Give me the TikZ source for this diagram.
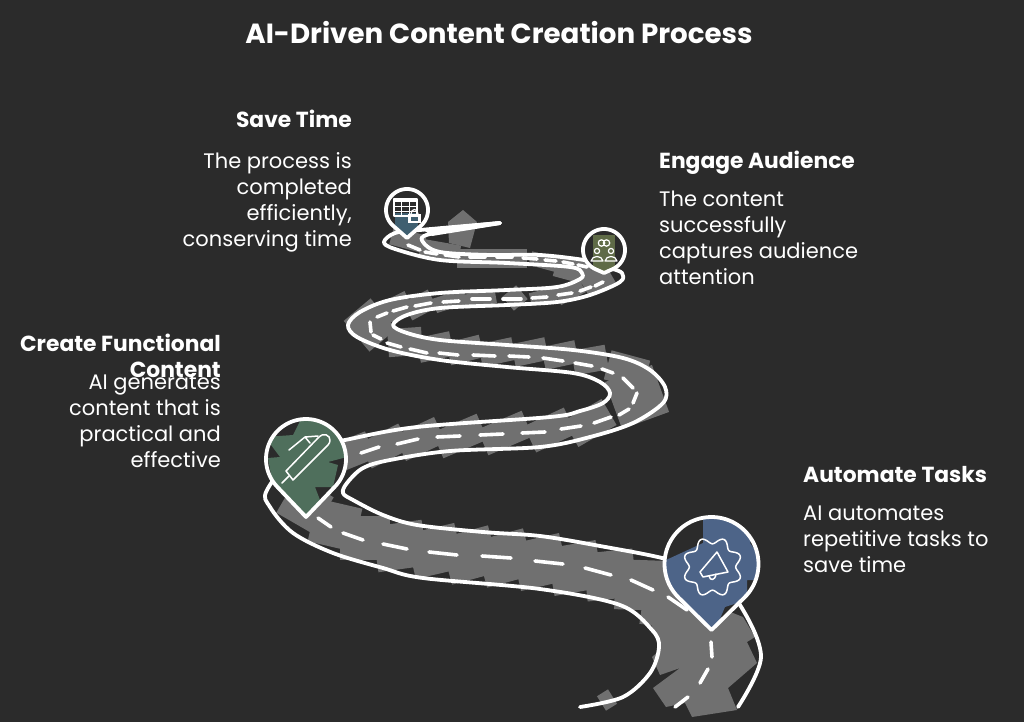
\documentclass[tikz,border=0pt]{standalone}
\usepackage{fontspec}
\setmainfont{Poppins}
\definecolor{bg}{HTML}{2B2B2B}
\definecolor{roadgray}{HTML}{707070}
\definecolor{pinblue}{HTML}{4D6488}
\definecolor{pingreen}{HTML}{4F6F5C}
\definecolor{pinolive}{HTML}{5F6B47}
\definecolor{pinteal}{HTML}{3F5F70}
\tikzset{
  edgeline/.style={draw=white,line width=3.8pt,line cap=round,line join=round},
  dashmark/.style={draw=white,line width=3.6pt,line cap=round},
  iconline/.style={draw=white,line width=1.5pt,line join=round,line cap=round},
  headtext/.style={inner sep=0pt,text=white,font=\fontsize{21.8}{25.5}\selectfont\bfseries},
  bodytext/.style={inner sep=0pt,text=white,font=\fontsize{21}{26}\selectfont},
}
\newcommand{\droppath}[6]{plot[domain=#5:#6,samples=70] ({#1+#3*cos(\x)},{#2+#3*sin(\x)}) -- (#1,#4) -- cycle}
\newcommand{\dropblue}{\droppath{711.5}{564}{47}{630}{134.6}{405.4}}
\newcommand{\dropgreen}{\droppath{306}{459}{40}{517}{136.4}{403.6}}
\newcommand{\dropolive}{\droppath{604}{250}{21}{273}{114.1}{425.9}}
\newcommand{\dropteal}{\droppath{407}{210}{21}{238}{131.4}{408.6}}
\begin{document}
\begin{tikzpicture}[x=1pt,y=-1pt]
\useasboundingbox (0,0) rectangle (1024,722);
\fill[bg] (0,0) rectangle (1024,722);

% road body: overlapping rotated slabs
\foreach \cx/\cy/\ang/\len/\hgt in {
 607/700/32/13/17,
 668/600/-8/50/55, 640/585/-2/50/50, 610/575/6/50/48, 575/568/10/50/48,
 540/562/13/50/48, 505/558/15/50/48, 470/555/15/50/48, 435/551/13/50/46, 400/546/8/50/46,
 365/538/0/50/44, 335/525/-13/46/44, 305/505/-30/42/42,
 350/453/22/44/29, 385/446/27/44/28, 420/439/25/44/28, 460/436/23/48/28, 505/433/23/48/28,
 550/430/25/44/29, 590/423/30/44/30, 637/397/20/50/50,
 627/370/-15/40/30, 590/360/10/34/25, 560/355/12/34/23, 530/352/12/34/23, 497/352/12/34/23,
 465/350/14/34/23, 435/347/12/34/25, 405/342/4/34/28, 370/325/40/35/40,
 395/308/26/32/22, 420/305/28/28/20, 450/301/18/32/15, 480/299/10/32/14, 515/298/40/18/18,
 545/296/14/30/13, 570/292/28/28/15, 597/280/30/30/22, 573/270/-15/36/22, 545/262/-15/30/14,
 492/258/0/70/19, 440/250/-10/40/16, 408/240/-15/34/18}
{\fill[roadgray,shift={(\cx,\cy)},rotate=\ang] ({-\len/2},{-\hgt/2}) rectangle ({\len/2},{\hgt/2});}
\fill[roadgray] (463,210) -- (448,222) -- (449,243) -- (470,248) -- (477,222) -- cycle;
\fill[roadgray] (743,617) -- (755,637) -- (747,642) -- (757,663) -- (728,688) -- (737,710) -- (692,717) -- (685,703) -- (666,707) -- (653,688) -- (680,668) -- (660,675) -- (652,657) -- (660,650) -- (650,620) -- (640,600) -- (700,600) -- cycle;

% road edges
\draw[edgeline] plot[smooth,tension=0.55] coordinates {
 (580,707) (623,697) (650,673) (659,647) (652,630) (620,605) (540,589) (423,578) (383,568) (333,553)
 (293,533) (270,507) (267,490) (300,450) (345,440) (417,427) (550,417) (580,411) (603,403) (610,393)
 (600,382) (573,373) (507,367) (440,360) (390,350) (357,337) (348,325) (360,312) (390,300) (440,293)
 (507,290) (557,287) (580,279) (582,273) (570,267) (507,263) (440,260) (395,249) (384,242) (395,233) (420,230) (500,223)};
\draw[edgeline] plot[smooth,tension=0.55] coordinates {
 (738,707) (761,657) (740,605) (710,575) (666,559) (600,546) (540,536) (483,532) (417,525) (383,515) (353,500)
 (343,493) (347,483) (363,468) (390,460) (450,451) (540,447) (590,437) (633,423) (663,403) (665,387)
 (650,370) (623,358) (573,350) (507,345) (440,340) (407,333) (393,325) (407,315) (440,308) (507,305)
 (557,302) (590,295) (620,282) (622,273) (610,268) (590,261) (540,255) (490,255) (440,252) (423,242) (430,234) (500,223)};
\fill[white] (422,229) -- (500,221) .. controls (502,223) and (502,224) .. (500,225) -- (432,236) -- cycle;

% centre dashes
\foreach \xa/\ya/\xb/\yb in {
 675/707/688/697, 700/683/708/669, 712/657/711/642, 668/597/687/610, 631/580/653/590,
 585/568/611/575, 535/561/563/564, 482/556/511/558, 429/552/457/555, 383/544/407/549,
 343/533/363/540, 318/518/331/527,
 361/453/379/447, 397/444/418/439, 437/437/460/436, 480/435/503/434, 522/433/545/432,
 561/429/581/426, 594/423/611/417, 619/415/629/409, 633/403/637/393, 633/388/623/378,
 613/373/602/369, 592/366/575/363, 563/361/543/358, 529/357/509/356, 495/356/473/355,
 458/355/439/353, 427/353/410/349, 401/347/387/343, 381/339/373/335, 371/332/370/322,
 377/317/387/313, 393/311/407/307, 415/306/431/303, 443/302/459/301, 472/299/490/299,
 503/299/521/299, 532/298/547/297, 558/295/572/293, 580/291/591/287, 595/286/603/282,
 408/245/420/250, 425/252/437/254, 445/255/459/257, 470/257/485/257, 497/257/512/257,
 523/258/537/259, 545/260/556/261, 563/262/573/264, 578/265/587/267}
{\draw[dashmark] (\xa,\ya) -- (\xb,\yb);}

% pin: Automate Tasks
\fill[bg] \dropblue;
\begin{scope}
\clip \dropblue;
\fill[pinblue] (703,515) -- (765,515) -- (750,543) -- (760,557) -- (760,580) -- (747,580) -- (747,600) -- (725,607) -- (711,640) -- (680,620) -- (660,590) -- (660,560) -- (666,560) -- (703,543) -- cycle;
\end{scope}
\draw[edgeline] \dropblue;
\draw[iconline] plot[domain=0:360,samples=160,smooth] ({712.5+(26.5-3.3*cos(8*\x))*cos(\x)},{567+(26.5-3.3*cos(8*\x))*sin(\x)}) -- cycle;
\draw[iconline] (700,572) -- (717,552) -- (728,572) -- (703,577) -- cycle;
\draw[iconline] (709,576) .. controls (710,581) and (715,581) .. (716,574);

% pin: Create Functional Content
\fill[bg] \dropgreen;
\begin{scope}
\clip \dropgreen;
\fill[pingreen] (293,435) -- (302,417) -- (317,418) -- (343,433) -- (347,457) -- (328,462) -- (338,465) -- (333,487) -- (315,487) -- (320,500) -- (307,520) -- (277,493) -- (272,480) -- (268,458) -- (280,457) -- (265,437) -- cycle;
\end{scope}
\draw[edgeline] \dropgreen;
\draw[iconline] (286,471) -- (293,480) -- (328,445) .. controls (333,439) and (328,433) .. (322,435) .. controls (320,436) and (319,437) .. (318,438) -- cycle;
\draw[iconline] (289,450) -- (305,437) -- (310,443) (305,437) -- (318,436);
\draw[iconline] (282,483) -- (289,476);

% pin: Engage Audience
\fill[bg] \dropolive;
\begin{scope}
\clip \dropolive;
\fill[pinolive] (593,235) rectangle (615,275);
\end{scope}
\draw[edgeline] \dropolive;
\draw[iconline,line width=1.2pt] (601.5,243) circle (3.2) (606.5,243) circle (3.2);
\draw[iconline,line width=1.2pt] (597,251) circle (2.6) (611,251) circle (2.6);
\draw[iconline,line width=1.2pt] (591,261) .. controls (592,255) and (602,255) .. (603,261) -- cycle;
\draw[iconline,line width=1.2pt] (605,261) .. controls (606,255) and (616,255) .. (617,261) -- cycle;

% pin: Save Time
\fill[bg] \dropteal;
\begin{scope}
\clip \dropteal;
\fill[pinteal] (395,213) rectangle (418,240);
\end{scope}
\draw[edgeline] \dropteal;
\draw[iconline,line width=1.2pt] (394,199) rectangle (417,216);
\fill[white] (394,198) rectangle (417,202);
\draw[iconline,line width=1pt] (394,206) -- (417,206) (394,211) -- (417,211) (401,199) -- (401,216) (409,199) -- (409,216);
\fill[white] (408,214) rectangle (421,223);
\fill[pinteal] (411,217) rectangle (418,221);
\draw[iconline,line width=1.2pt] (411,214) .. controls (411,208) and (418,208) .. (418,214);

% texts
\node[inner sep=0pt,text=white,font=\fontsize{27.7}{32}\selectfont\bfseries,anchor=base] (title) at (499,44) {AI-Driven Content Creation Process};

\node[headtext,anchor=base east] (savehead) at (352,128) {Save Time};
\node[bodytext,anchor=north east,align=right] (savebody) at (352,152) {The process is\\completed\\efficiently,\\conserving time};

\node[headtext,anchor=base west] (engagehead) at (659,168) {Engage Audience};
\node[bodytext,anchor=north west,align=left] (engagebody) at (659,191) {The content\\successfully\\captures audience\\attention};

\node[headtext,anchor=north east,align=right] (createhead) at (221,334) {Create Functional\\Content};
\node[bodytext,anchor=north east,align=right] (createbody) at (221,375) {AI generates\\content that is\\practical and\\effective};

\node[headtext,anchor=base west] (autohead) at (803,482) {Automate Tasks};
\node[bodytext,anchor=north west,align=left] (autobody) at (803,506) {AI automates\\repetitive tasks to\\save time};
\end{tikzpicture}
\end{document}
